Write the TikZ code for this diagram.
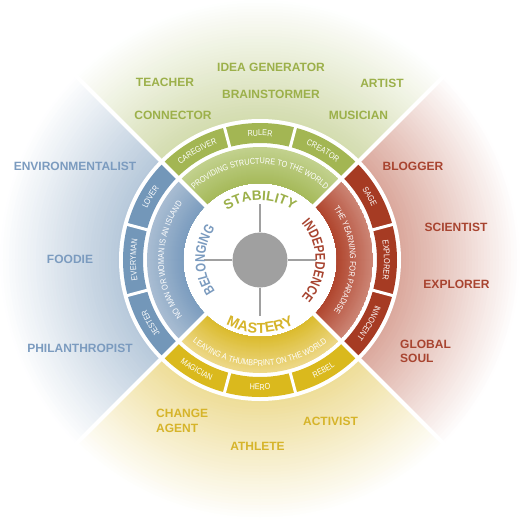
\documentclass[tikz,border=0pt]{standalone}
\usepackage{fontspec}
\setmainfont{Liberation Sans}
\newfontfamily\narrowfont{Liberation Sans}[FakeStretch=0.85]
\newfontfamily\condfont{Liberation Sans}[FakeStretch=0.8]
\usetikzlibrary{decorations.text}

% text colours
\definecolor{gT}{HTML}{9CB04A}
\definecolor{bT}{HTML}{7B9BBF}
\definecolor{rT}{HTML}{A84430}
\definecolor{yT}{HTML}{D6B42A}
% outer band
\definecolor{gO}{HTML}{A3B653}
\definecolor{bO}{HTML}{7397B9}
\definecolor{rO}{HTML}{A63B23}
\definecolor{yO}{HTML}{DAB91D}
% inner band (inner / outer edge)
\definecolor{gI1}{HTML}{A6BA5A}
\definecolor{gI2}{HTML}{C2D18E}
\definecolor{bI1}{HTML}{7C9DBF}
\definecolor{bI2}{HTML}{A9BDD2}
\definecolor{rI1}{HTML}{B0452D}
\definecolor{rI2}{HTML}{CC8474}
\definecolor{yI1}{HTML}{DBBB2C}
\definecolor{yI2}{HTML}{EDD887}
% background tints
\definecolor{gBg}{HTML}{D3DCAE}
\definecolor{bBg}{HTML}{B6C8DA}
\definecolor{rBg}{HTML}{DAA79B}
\definecolor{yBg}{HTML}{EEDD97}
\definecolor{hubgray}{HTML}{A0A0A0}

\newcommand\fsmall{\narrowfont\fontsize{8.5}{10}\selectfont\color{white}}
\newcommand\fbigG{\fontsize{13.6}{15}\bfseries\color{gT}}
\newcommand\fbigB{\condfont\fontsize{14}{15}\bfseries\color{bT}}
\newcommand\fbigR{\condfont\fontsize{14}{15}\bfseries\color{rT}}
\newcommand\fbigY{\fontsize{14.5}{15}\bfseries\color{yT}}

% #1 start angle, #2 end angle, #3 radius, #4 format, #5 text
\newcommand\arctext[5]{%
  \path[decorate, decoration={text along path, text={|#4|#5}, text align=center}]
    (#1:#3) arc[start angle=#1, end angle=#2, radius=#3];}

\tikzset{
  lab/.style={font=\fontsize{12}{14.5}\selectfont\bfseries, inner sep=0pt},
  gap/.style={white, line width=4pt},
  sep/.style={white, line width=3pt},
  cross/.style={hubgray, line width=1.6pt}
}

\begin{document}
\begin{tikzpicture}[x=1pt, y=1pt]
\useasboundingbox (-260,-260) rectangle (265,260);

% faded background quadrants
\foreach \a/\c in {90/gBg, 180/bBg, 270/yBg, 0/rBg} {
  \begin{scope}
    \clip (0,0) -- (\a-45:400pt) -- (\a+45:400pt) -- cycle;
    \foreach \r [evaluate=\r as \t using {int(100*(262-\r)/121)}] in {260,257,...,140} {
      \fill[\c!\t!white] (0,0) circle[radius=\r pt];
    }
  \end{scope}
}

% white disc behind the rings
\fill[white] (0,0) circle[radius=141pt];

% outer band
\foreach \a/\c in {90/gO, 180/bO, 270/yO, 0/rO} {
  \fill[\c] (\a-45:117pt) arc[start angle=\a-45, end angle=\a+45, radius=117pt]
    -- (\a+45:137pt) arc[start angle=\a+45, end angle=\a-45, radius=137pt] -- cycle;
}

% inner band
\foreach \a/\ca/\cb in {90/gI1/gI2, 180/bI1/bI2, 270/yI1/yI2, 0/rI1/rI2} {
  \begin{scope}
    \clip (\a-45:77pt) arc[start angle=\a-45, end angle=\a+45, radius=77pt]
      -- (\a+45:113pt) arc[start angle=\a+45, end angle=\a-45, radius=113pt] -- cycle;
    \foreach \r [evaluate=\r as \t using {int(100*(113-\r)/36)}] in {113,112,...,77} {
      \fill[\ca!\t!\cb] (0,0) circle[radius=\r pt];
    }
  \end{scope}
}

% white diagonals and segment separators
\foreach \a in {45,135,225,315} \draw[gap] (\a:70pt) -- (\a:270pt);
\foreach \a in {75,105,165,195,255,285,345,15} \draw[sep] (\a:114pt) -- (\a:139pt);

% hub and crosshair
\node[circle, fill=hubgray, inner sep=0pt, minimum size=55pt] (hub) at (0,0) {};
\coordinate (cn) at (0,56);
\coordinate (cs) at (0,-56);
\coordinate (ce) at (56,0);
\coordinate (cw) at (-56,0);
\draw[cross] (hub.north) -- (cn);
\draw[cross] (hub.south) -- (cs);
\draw[cross] (hub.east) -- (ce);
\draw[cross] (hub.west) -- (cw);

% quadrant names
\arctext{170}{10}{59.5pt}{\fbigG}{STABILITY}
\arctext{260}{100}{55pt}{\fbigB}{BELONGING}
\arctext{80}{-80}{55.5pt}{\fbigR}{INDEPEDENCE}
\arctext{190}{350}{73pt}{\fbigY}{MASTERY}

% inner band texts
\arctext{170}{10}{96pt}{\fsmall}{PROVIDING STRUCTURE TO THE WORLD}
\arctext{260}{100}{96pt}{\fsmall}{NO MAN OR WOMAN IS AN ISLAND}
\arctext{80}{-80}{90pt}{\fsmall}{THE YEARNING FOR PARADISE}
\arctext{190}{350}{106pt}{\fsmall}{LEAVING A THUMBPRINT ON THE WORLD}

% outer band texts
\arctext{135}{105}{124pt}{\fsmall}{CAREGIVER}
\arctext{105}{75}{124pt}{\fsmall}{RULER}
\arctext{75}{45}{124pt}{\fsmall}{CREATOR}
\arctext{225}{195}{124pt}{\fsmall}{JESTER}
\arctext{195}{165}{124pt}{\fsmall}{EVERYMAN}
\arctext{165}{135}{124pt}{\fsmall}{LOVER}
\arctext{45}{15}{124pt}{\fsmall}{SAGE}
\arctext{15}{-15}{124pt}{\fsmall}{EXPLORER}
\arctext{-15}{-45}{124pt}{\fsmall}{INNOCENT}
\arctext{225}{255}{130pt}{\fsmall}{MAGICIAN}
\arctext{255}{285}{130pt}{\fsmall}{HERO}
\arctext{285}{315}{130pt}{\fsmall}{REBEL}

% outer labels
\node[lab, text=gT] (ideagen) at (11,193) {IDEA GENERATOR};
\node[lab, text=gT] (teacher) at (-95,178) {TEACHER};
\node[lab, text=gT] (artist) at (122,177) {ARTIST};
\node[lab, text=gT] (brain) at (11,166) {BRAINSTORMER};
\node[lab, text=gT] (connector) at (-87,145) {CONNECTOR};
\node[lab, text=gT] (musician) at (98.5,145) {MUSICIAN};

\node[lab, text=bT] (environ) at (-185,94) {ENVIRONMENTALIST};
\node[lab, text=bT] (foodie) at (-190,1) {FOODIE};
\node[lab, text=bT] (philan) at (-180,-88) {PHILANTHROPIST};

\node[lab, text=rT] (blogger) at (153,94) {BLOGGER};
\node[lab, text=rT] (scientist) at (196,33) {SCIENTIST};
\node[lab, text=rT] (explorer) at (196.5,-24) {EXPLORER};
\node[lab, text=rT, align=left, anchor=west] (global) at (140,-91.5) {GLOBAL\\SOUL};

\node[lab, text=yT, align=left, anchor=west] (change) at (-104,-161) {CHANGE\\AGENT};
\node[lab, text=yT] (activist) at (70.5,-161) {ACTIVIST};
\node[lab, text=yT] (athlete) at (-2.5,-186) {ATHLETE};
\end{tikzpicture}
\end{document}
